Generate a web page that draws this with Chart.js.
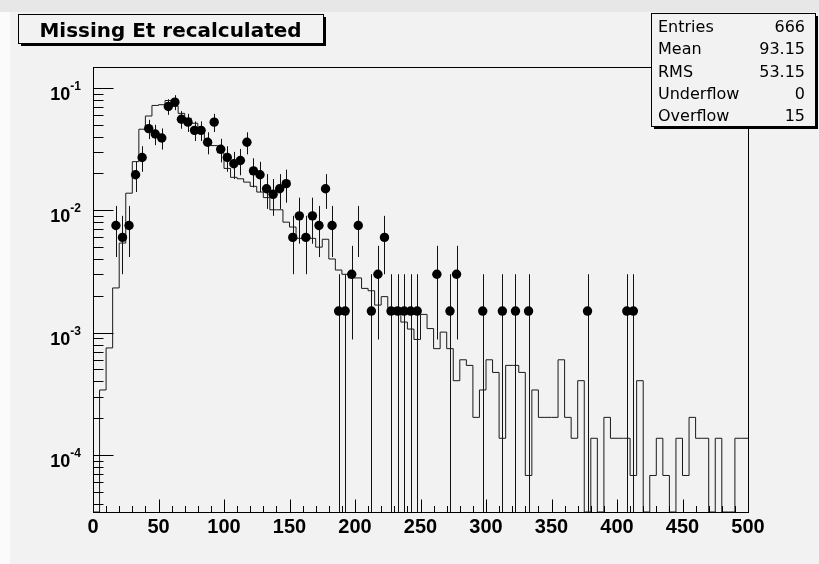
<!DOCTYPE html>
<html>
<head>
<meta charset="utf-8">
<title>Missing Et recalculated</title>
<script src="https://cdn.jsdelivr.net/npm/chart.js@4.4.1/dist/chart.umd.min.js"></script>
<style>
  html, body { margin: 0; padding: 0; background: #f2f2f2; }
  #wrap { width: 819px; height: 564px; }
</style>
</head>
<body>
<div id="wrap"><canvas id="met" width="819" height="564"></canvas></div>
<script>
// binning: 100 bins of 5 GeV between 0 and 500
const binWidth = 5;
const xMin = 0;
const xMax = 500;
const binLow = Array.from({ length: 100 }, (_, i) => xMin + i * binWidth);

// simulation, normalised to unit area
const mcValues = [
  6.8e-5, 0, 3.4e-4, 7.5e-4, 2.32e-3, 5.4e-3, 0.0138, 0.025, 0.046, 0.059,
  0.072, 0.073, 0.079, 0.071, 0.062, 0.0566, 0.0515, 0.044, 0.0378, 0.0338,
  0.0295, 0.022, 0.0186, 0.0181, 0.017, 0.0157, 0.0141, 0.0127, 0.0101, 0.0101,
  0.008, 0.0073, 0.0059, 0.0059, 0.0059, 0.005, 0.0058, 0.004, 0.00325, 0.003,
  0.0028, 0.0028, 0.0023, 0.0022, 0.00168, 0.00197, 0.0016, 0.0016, 0.00122, 0.00107,
  0.00088, 0.00141, 0.00108, 0.00074, 0.00101, 0.00074, 0.000405, 0.0006, 0.00054, 0.000203,
  0.00034, 0.0006, 0.000473, 0.000137, 0.00054, 0.00054, 0.000473, 0.000068, 0.00034, 0.000203,
  0.000203, 0.000203, 0.0006, 0.000203, 0.000137, 0.000405, 0, 0.000137, 0, 0.000203,
  0.000137, 0.000137, 0.000137, 0.000068, 0.000405, 0, 0.000068, 0.000137, 0.000068, 0,
  0.000137, 0.000068, 0.000203, 0.000137, 0.000137, 0, 0.000137, 0, 0, 0.000137
];

// data, raw counts per bin
const dataCounts = [
  0, 0, 0, 5, 4, 5, 13, 18, 31, 28,
  26, 47, 51, 37, 35, 30, 30, 24, 35, 21,
  18, 16, 17, 24, 14, 13, 10, 9, 10, 11,
  4, 6, 4, 6, 5, 10, 5, 1, 1, 2,
  5, 0, 1, 2, 4, 1, 1, 1, 1, 1,
  0, 0, 2, 0, 1, 2, 0, 0, 0, 1,
  0, 0, 1, 0, 1, 0, 1, 0, 0, 0,
  0, 0, 0, 0, 0, 1, 0, 0, 0, 0,
  0, 1, 1, 0, 0, 0, 0, 0, 0, 0,
  0, 0, 0, 0, 0, 0, 0, 0, 0, 0
];
const entries = 666;

const yMin = 3.42e-5;
const yMax = 0.1484;
const yDecades = [1e-1, 1e-2, 1e-3, 1e-4];
const yExponents = ['-1', '-2', '-3', '-4'];

const titleText = 'Missing Et recalculated';
const statLabels = ['Entries', 'Mean', 'RMS', 'Underflow', 'Overflow'];
const statValues = ['666', '93.15', '53.15', '0', '15'];

const ink = '#111';

// step outline: one point per low edge, plus the closing edge
let mcPoints = binLow.map((x, i) => ({ x: x, y: Math.max(mcValues[i], yMin) }));
mcPoints.push({ x: xMax, y: Math.max(mcValues[mcValues.length - 1], yMin) });

let dataPoints = [];
dataCounts.forEach((n, i) => {
  if (n > 0) {
    dataPoints.push({ x: binLow[i] + binWidth / 2, y: n / entries, n: n });
  }
});

function crisp(v) {
  return Math.round(v) + 0.5;
}

// ROOT-like frame, ticks, title and stats box
const rootStyle = {
  id: 'rootStyle',
  beforeDraw(chart) {
    let ctx = chart.ctx;
    ctx.save();
    ctx.fillStyle = '#f2f2f2';
    ctx.fillRect(0, 0, chart.width, chart.height);
    ctx.fillStyle = '#fbfbfb';
    ctx.fillRect(0, 0, 10, chart.height);
    ctx.fillStyle = '#e7e7e7';
    ctx.fillRect(0, 0, chart.width, 12);
    ctx.restore();
  },
  beforeDatasetsDraw(chart) {
    // vertical error bars, sqrt(n)
    let ctx = chart.ctx;
    let ca = chart.chartArea;
    let xs = chart.scales.x;
    let ys = chart.scales.y;
    ctx.save();
    ctx.beginPath();
    ctx.rect(ca.left, ca.top, ca.right - ca.left, ca.bottom - ca.top);
    ctx.clip();
    ctx.strokeStyle = ink;
    ctx.lineWidth = 1;
    dataPoints.forEach(p => {
      let err = Math.sqrt(p.n);
      let lo = (p.n - err) / entries;
      let hi = (p.n + err) / entries;
      let px = crisp(xs.getPixelForValue(p.x));
      let y1 = lo > 0 ? ys.getPixelForValue(lo) : ca.bottom;
      let y2 = ys.getPixelForValue(hi);
      ctx.beginPath();
      ctx.moveTo(px, y1);
      ctx.lineTo(px, y2);
      ctx.stroke();
    });
    ctx.restore();
  },
  afterDatasetsDraw(chart) {
    let ctx = chart.ctx;
    let ca = chart.chartArea;
    let xs = chart.scales.x;
    let ys = chart.scales.y;
    let L = crisp(ca.left), R = crisp(ca.right), T = crisp(ca.top), B = crisp(ca.bottom);

    ctx.save();
    ctx.strokeStyle = '#000';
    ctx.lineWidth = 1;
    ctx.strokeRect(L, T, R - L, B - T);

    // x ticks, pointing into the frame
    ctx.beginPath();
    for (let v = xMin; v <= xMax; v += 10) {
      let px = crisp(xs.getPixelForValue(v));
      let len = v % 50 === 0 ? 13 : 6.5;
      ctx.moveTo(px, B);
      ctx.lineTo(px, B - len);
    }
    // y ticks, log decades and 2..9 subdivisions
    for (let d = 1e-5; d < 1; d *= 10) {
      for (let m = 1; m <= 9; m++) {
        let v = m * d;
        if (v < yMin || v > yMax) continue;
        let py = crisp(ys.getPixelForValue(v));
        ctx.moveTo(L, py);
        ctx.lineTo(L + (m === 1 ? 20 : 10), py);
      }
    }
    ctx.stroke();

    // y labels as 10^n
    ctx.fillStyle = '#000';
    ctx.textBaseline = 'alphabetic';
    ctx.textAlign = 'left';
    yDecades.forEach((v, i) => {
      let py = ys.getPixelForValue(v);
      ctx.font = 'bold 18px "Liberation Sans"';
      let wBase = ctx.measureText('10').width;
      ctx.font = 'bold 12px "Liberation Sans"';
      let wExp = ctx.measureText(yExponents[i]).width;
      let right = 81;
      ctx.font = 'bold 18px "Liberation Sans"';
      ctx.fillText('10', right - wExp - wBase, py + 12);
      ctx.font = 'bold 12px "Liberation Sans"';
      ctx.fillText(yExponents[i], right - wExp, py + 2);
    });

    // title box with shadow
    let tb = { x: 18, y: 14, w: 305, h: 29 };
    ctx.fillStyle = '#000';
    ctx.fillRect(tb.x + 3, tb.y + 3, tb.w, tb.h);
    ctx.fillStyle = '#f2f2f2';
    ctx.fillRect(tb.x, tb.y, tb.w, tb.h);
    ctx.strokeRect(tb.x + 0.5, tb.y + 0.5, tb.w, tb.h);
    ctx.fillStyle = '#000';
    ctx.font = 'bold 20px "DejaVu Sans"';
    ctx.textAlign = 'center';
    ctx.fillText(titleText, tb.x + tb.w / 2, tb.y + 23, 262);

    // statistics box
    let sb = { x: 651, y: 13, w: 164, h: 113 };
    ctx.fillStyle = '#000';
    ctx.fillRect(sb.x + 3, sb.y + 3, sb.w, sb.h);
    ctx.fillStyle = '#f2f2f2';
    ctx.fillRect(sb.x, sb.y, sb.w, sb.h);
    ctx.strokeRect(sb.x + 0.5, sb.y + 0.5, sb.w, sb.h);
    ctx.fillStyle = '#000';
    ctx.font = '16px "DejaVu Sans"';
    statLabels.forEach((lab, i) => {
      let base = sb.y + 19 + i * 22.3;
      ctx.textAlign = 'left';
      ctx.fillText(lab, sb.x + 7, base);
      ctx.textAlign = 'right';
      ctx.fillText(statValues[i], sb.x + 154, base);
    });
    ctx.restore();
  }
};

let ctx = document.getElementById('met').getContext('2d');
let metChart = new Chart(ctx, {
  data: {
    datasets: [
      {
        type: 'scatter',
        label: 'data',
        data: dataPoints,
        pointRadius: 4.7,
        pointHoverRadius: 4.7,
        pointBackgroundColor: '#000',
        pointBorderWidth: 0,
        order: 0
      },
      {
        type: 'line',
        label: 'simulation',
        data: mcPoints,
        stepped: 'after',
        borderColor: '#1a1a1a',
        borderWidth: 1,
        pointRadius: 0,
        fill: false,
        order: 1
      }
    ]
  },
  options: {
    responsive: false,
    animation: false,
    devicePixelRatio: 1,
    layout: {
      padding: { left: 93, right: 71, top: 67, bottom: 0 }
    },
    plugins: {
      legend: { display: false },
      tooltip: { enabled: false },
      title: { display: false }
    },
    scales: {
      x: {
        type: 'linear',
        min: xMin,
        max: xMax,
        grid: { display: false, drawTicks: false },
        border: { display: false },
        ticks: {
          stepSize: 50,
          autoSkip: false,
          maxRotation: 0,
          padding: 3,
          color: '#000',
          font: { family: 'Liberation Sans', size: 20, weight: 'bold' }
        },
        afterFit: function(scale) { scale.height = 52; }
      },
      y: {
        type: 'logarithmic',
        min: yMin,
        max: yMax,
        display: false
      }
    }
  },
  plugins: [rootStyle]
});
</script>
</body>
</html>
